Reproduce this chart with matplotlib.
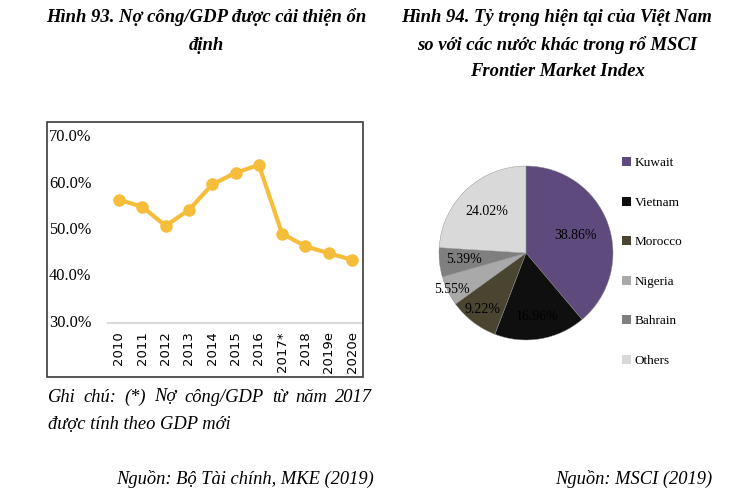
import matplotlib
matplotlib.use("Agg")
import matplotlib.pyplot as plt
import numpy as np
from matplotlib.patches import Rectangle, Patch

# số liệu
years = ["2010", "2011", "2012", "2013", "2014", "2015", "2016", "2017*", "2018", "2019e", "2020e"]
debt_gdp = [56.5, 55.0, 50.9, 54.3, 59.8, 62.3, 64.0, 49.2, 46.5, 45.0, 43.6]

countries = ["Kuwait", "Vietnam", "Morocco", "Nigeria", "Bahrain", "Others"]
weights = [38.86, 16.96, 9.22, 5.55, 5.39, 24.02]
pie_colors = ["#5E4A7D", "#0F0F0F", "#4A4530", "#A9A9A9", "#7F7F7F", "#D9D9D9"]
label_dist = [0.60, 0.74, 0.82, 0.95, 0.72, 0.66]

W, H = 752, 503
fig = plt.figure(figsize=(W / 100, H / 100), dpi=100)
serif = "Liberation Serif"


def fx(px):
    return px / W


def fy(py):
    return 1 - py / H


# tiêu đề
tkw = dict(family=serif, weight="bold", style="italic", fontsize=13.4, ha="center", va="center")
fig.text(fx(206), fy(17), "Hình 93. Nợ công/GDP được cải thiện ổn", **tkw)
fig.text(fx(206), fy(45), "định", **tkw)
fig.text(fx(557), fy(17), "Hình 94. Tỷ trọng hiện tại của Việt Nam", **tkw)
fig.text(fx(557), fy(45), "so với các nước khác trong rổ MSCI", **tkw)
fig.text(fx(557), fy(72), "Frontier Market Index", **tkw)

# khung biểu đồ đường
fig.patches.append(Rectangle((fx(47), fy(377)), fx(363) - fx(47), fy(122) - fy(377),
                             transform=fig.transFigure, fill=False, edgecolor="#3A3A3A", lw=1.2))

ax = fig.add_axes([fx(108), fy(323), fx(363) - fx(108), fy(137) - fy(323)])
x = np.arange(len(years))
ax.plot(x, debt_gdp, color="#F5BD3A", lw=3, marker="o", markersize=8, solid_capstyle="round")
ax.set_xlim(-0.47, len(years) - 0.53)
ax.set_ylim(30, 70)
for s in ["top", "right", "left"]:
    ax.spines[s].set_visible(False)
ax.spines["bottom"].set_color("#D9D9D9")
ax.spines["bottom"].set_linewidth(1.5)
ax.set_xticks(x)
ax.set_xticklabels(years, rotation=90, family="DejaVu Sans", fontsize=9.5)
ax.tick_params(axis="x", length=0, pad=6)
ax.set_yticks([])
for v in [30, 40, 50, 60, 70]:
    fig.text(fx(49), ax.transData.transform((0, v))[1] / H, f"{v:.1f}%",
             family=serif, fontsize=11.8, ha="left", va="center")

# ghi chú
nkw = dict(family=serif, style="italic", fontsize=13.3, va="center")
renderer = fig.canvas.get_renderer()
words = "Ghi chú: (*) Nợ công/GDP từ năm 2017".split()
wtexts = [fig.text(0, fy(397), w, **nkw) for w in words]
widths = [t.get_window_extent(renderer).width for t in wtexts]
gap = (372 - 48 - sum(widths)) / (len(words) - 1)
pos = 48
for t, wd in zip(wtexts, widths):
    t.set_x(fx(pos))
    pos += wd + gap
fig.text(fx(48), fy(425), "được tính theo GDP mới", **nkw)
fig.text(fx(374), fy(479), "Nguồn: Bộ Tài chính, MKE (2019)", ha="right", **nkw)
fig.text(fx(712), fy(479), "Nguồn: MSCI (2019)", ha="right", **nkw)

# biểu đồ tròn
r = 87
cx, cy = 526, 253
pax = fig.add_axes([fx(cx - r), fy(cy + r), fx(2 * r), 2 * r / H])
wedges, _ = pax.pie(weights, colors=pie_colors, startangle=90, counterclock=False,
                    wedgeprops=dict(edgecolor="#8C8C8C", linewidth=0.3))
pax.set_xlim(-1, 1)
pax.set_ylim(-1, 1)
pax.set_aspect("equal")
for w, val, d in zip(wedges, weights, label_dist):
    ang = np.deg2rad((w.theta1 + w.theta2) / 2)
    pax.text(d * np.cos(ang), d * np.sin(ang), f"{val:.2f}%", family=serif,
             fontsize=10, ha="center", va="center", color="black")

handles = [Patch(facecolor=c, edgecolor="none") for c in pie_colors]
fig.legend(handles, countries, loc="upper left", bbox_to_anchor=(fx(622), fy(157)),
           frameon=False, prop=dict(family=serif, size=9.5),
           handlelength=0.7, handleheight=0.7, handletextpad=0.25,
           labelspacing=2.07, borderpad=0, borderaxespad=0)

fig.savefig("out.png", dpi=100)
